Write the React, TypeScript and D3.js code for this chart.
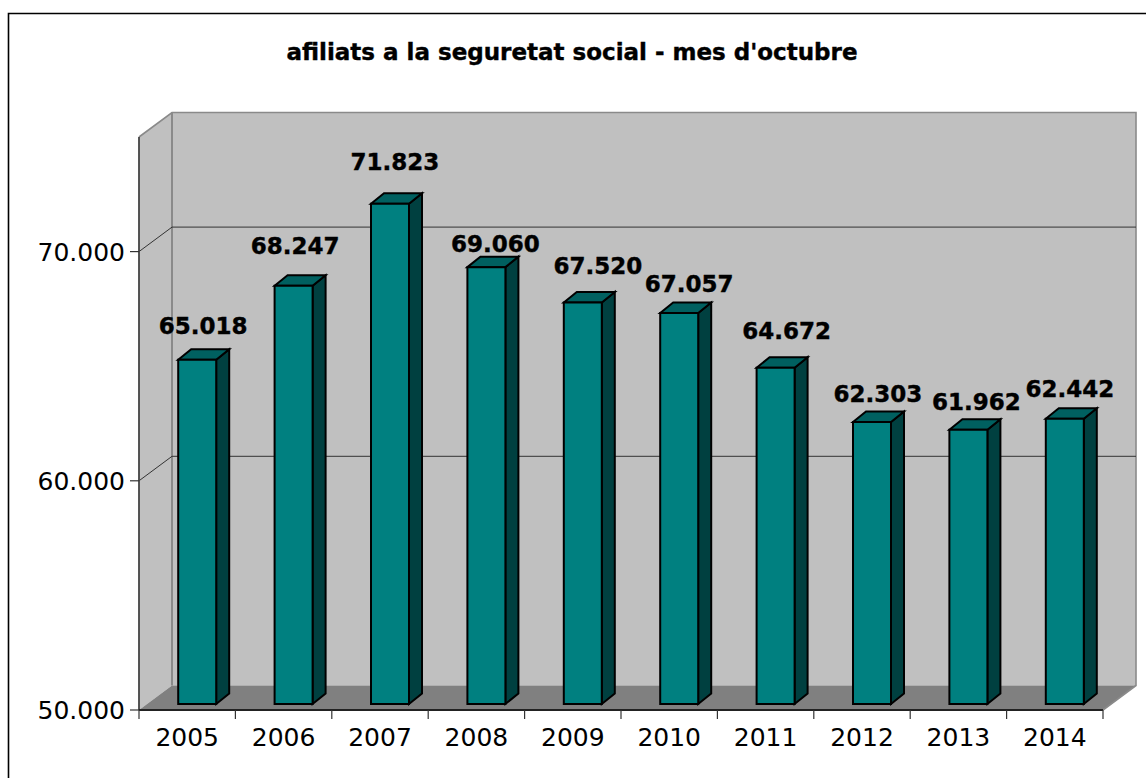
import { useEffect, useRef } from 'react';
import * as d3 from 'd3';

const years = ['2005', '2006', '2007', '2008', '2009', '2010', '2011', '2012', '2013', '2014'];
const affiliates = [65018, 68247, 71823, 69060, 67520, 67057, 64672, 62303, 61962, 62442];
const yTicks = [50000, 60000, 70000];

// hand placed data labels in the original, offset from the bar's front centre / top
const labelDx = [6, 1.5, 5, 9, 15, 10, 11, 6, 8, 5];
const labelDy = [-26, -32, -34, -15, -28, -21, -29, -20, -20, -22];

const FONT = 'Verdana, "DejaVu Sans", sans-serif';

export default function App() {
  const svgRef = useRef<SVGSVGElement | null>(null);

  useEffect(() => {
    if (!svgRef.current) return;
    const svg = d3.select(svgRef.current);
    svg.selectAll('*').remove();

    const left = 139;
    const right = 1103;
    const bottom = 710;
    const top = 137;
    const depth = { x: 33, y: -24.5 };
    const barFront = { x: 10, y: -6 };
    const barDepth = { x: 13, y: -10.5 };

    const xScale = d3.scaleBand<string>().domain(years).range([left, right]);
    const yScale = d3.scaleLinear().domain([50000, 75000]).range([bottom, top]);
    const barWidth = 38;
    const fmt = d3.formatLocale({ decimal: ',', thousands: '.', grouping: [3], currency: ['', ''] }).format(',d');

    const poly = (pts: [number, number][], fill: string, stroke = 'none', sw = 0) =>
      svg.append('polygon')
        .attr('points', pts.map(p => p.join(',')).join(' '))
        .attr('fill', fill)
        .attr('stroke', stroke)
        .attr('stroke-width', sw)
        .attr('stroke-linejoin', 'miter');

    // Outer frame runs off the right and bottom of the picture
    svg.append('path')
      .attr('d', 'M8.5,790 V13.5 H1160')
      .attr('fill', 'none')
      .attr('stroke', '#000')
      .attr('stroke-width', 1.6);

    // Walls and floor
    poly([[left + depth.x, top + depth.y], [right + depth.x, top + depth.y], [right + depth.x, bottom + depth.y], [left + depth.x, bottom + depth.y]], '#c0c0c0');
    poly([[left, top], [left + depth.x, top + depth.y], [left + depth.x, bottom + depth.y], [left, bottom]], '#c0c0c0');
    poly([[left, bottom], [left + depth.x, bottom + depth.y], [right + depth.x, bottom + depth.y], [right, bottom]], '#808080');

    svg.append('path')
      .attr('d', `M${left},${top} L${left + depth.x},${top + depth.y} H${right + depth.x} V${bottom + depth.y} L${right},${bottom}`)
      .attr('fill', 'none')
      .attr('stroke', '#8a8a8a')
      .attr('stroke-width', 1.6);
    svg.append('line')
      .attr('x1', left + depth.x).attr('x2', left + depth.x)
      .attr('y1', top + depth.y).attr('y2', bottom + depth.y)
      .attr('stroke', '#8a8a8a')
      .attr('stroke-width', 2);

    // Grid lines on the back and side wall
    yTicks.filter(t => t > 50000).forEach(t => {
      const y = yScale(t);
      svg.append('path')
        .attr('d', `M${left},${y} L${left + depth.x},${y + depth.y} H${right + depth.x}`)
        .attr('fill', 'none')
        .attr('stroke', '#333')
        .attr('stroke-width', 1);
    });

    // Axes
    svg.append('line')
      .attr('x1', left).attr('x2', left).attr('y1', top).attr('y2', bottom)
      .attr('stroke', '#444').attr('stroke-width', 1.8);
    svg.append('line')
      .attr('x1', left).attr('x2', right).attr('y1', bottom).attr('y2', bottom)
      .attr('stroke', '#222').attr('stroke-width', 1.8);

    yTicks.forEach(t => {
      svg.append('line')
        .attr('x1', left - 9).attr('x2', left).attr('y1', yScale(t)).attr('y2', yScale(t))
        .attr('stroke', '#333').attr('stroke-width', 1.2);
      svg.append('text')
        .attr('x', 125).attr('y', yScale(t) + 9)
        .attr('text-anchor', 'end')
        .attr('font-family', FONT).attr('font-size', 25).attr('fill', '#000')
        .text(fmt(t));
    });

    [...years.map(y => xScale(y) as number), right].forEach(x => {
      svg.append('line')
        .attr('x1', x).attr('x2', x).attr('y1', bottom).attr('y2', bottom + 9)
        .attr('stroke', '#333').attr('stroke-width', 1.2);
    });

    years.forEach(y => {
      svg.append('text')
        .attr('x', (xScale(y) as number) + xScale.bandwidth() / 2).attr('y', 746)
        .attr('text-anchor', 'middle')
        .attr('font-family', FONT).attr('font-size', 25).attr('fill', '#000')
        .text(y);
    });

    // Bars
    years.forEach((year, i) => {
      const cx = (xScale(year) as number) + xScale.bandwidth() / 2 + barFront.x;
      const x0 = cx - barWidth / 2;
      const x1 = cx + barWidth / 2;
      const yTop = yScale(affiliates[i]) + barFront.y;
      const yBase = bottom + barFront.y;
      const dx = barDepth.x;
      const dy = barDepth.y;

      poly([[x1, yTop], [x1 + dx, yTop + dy], [x1 + dx, yBase + dy], [x1, yBase]], '#004040', '#000', 2);
      poly([[x0, yTop], [x0 + dx, yTop + dy], [x1 + dx, yTop + dy], [x1, yTop]], '#006060', '#000', 2);
      poly([[x0, yTop], [x1, yTop], [x1, yBase], [x0, yBase]], '#008080', '#000', 2);

      svg.append('text')
        .attr('x', cx + labelDx[i])
        .attr('y', yTop + labelDy[i])
        .attr('text-anchor', 'middle')
        .attr('font-family', FONT).attr('font-size', 23).attr('font-weight', 'bold').attr('fill', '#000')
        .attr('stroke', '#000').attr('stroke-width', 0.4)
        .text(fmt(affiliates[i]));
    });

    // Title
    svg.append('text')
      .attr('x', 572).attr('y', 60)
      .attr('text-anchor', 'middle')
      .attr('font-family', FONT).attr('font-size', 23).attr('font-weight', 'bold').attr('fill', '#000')
      .attr('stroke', '#000').attr('stroke-width', 0.4)
      .text("afiliats a la seguretat social - mes d'octubre");
  }, []);

  return (
    <svg
      ref={svgRef}
      width={1146}
      height={778}
      style={{ position: 'absolute', left: 0, top: 0, display: 'block', background: '#fff' }}
    />
  );
}
